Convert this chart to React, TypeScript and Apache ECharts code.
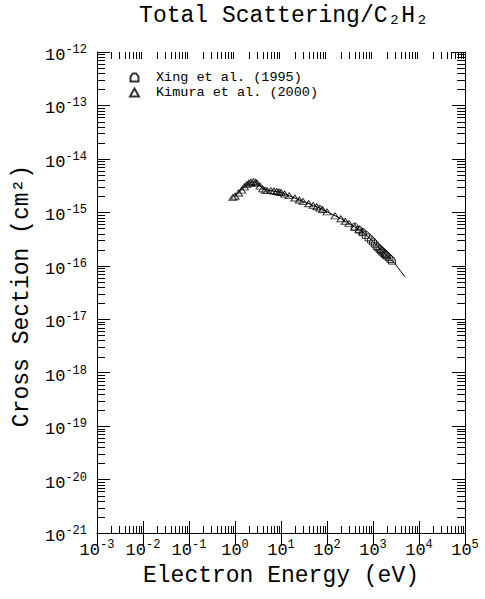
import React, { useEffect, useRef } from "react";
import * as echarts from "echarts";

const FONT = '"Liberation Mono", "DejaVu Sans Mono", monospace';

const X_MIN = 1e-3;
const X_MAX = 1e5;
const Y_MIN = 1e-21;
const Y_MAX = 1e-12;

// Kimura et al. (2000) – triangles
const kimuraEnergy = [0.9, 1.0, 1.2, 1.4, 1.6, 1.8, 2.0, 2.2, 2.5, 2.8, 3.0, 3.5, 4.0, 4.5, 5.0, 6.0, 7.0, 8.0, 9.0, 10, 12, 15, 20, 25, 30, 40, 50, 60, 70, 80, 100, 150, 200, 250, 300, 400, 500, 600];
const kimuraSigma = [1.9e-15, 2.0e-15, 2.3e-15, 2.6e-15, 3.0e-15, 3.3e-15, 3.5e-15, 3.65e-15, 3.75e-15, 3.65e-15, 3.5e-15, 3.1e-15, 2.75e-15, 2.6e-15, 2.55e-15, 2.55e-15, 2.5e-15, 2.45e-15, 2.4e-15, 2.35e-15, 2.2e-15, 2.05e-15, 1.85e-15, 1.7e-15, 1.6e-15, 1.45e-15, 1.35e-15, 1.27e-15, 1.2e-15, 1.13e-15, 1.02e-15, 8.6e-16, 7.6e-16, 6.8e-16, 6.2e-16, 5.3e-16, 4.8e-16, 4.3e-16];

// Xing et al. (1995) – hexagons
const xingEnergy = [400, 500, 600, 700, 800, 900, 1000, 1100, 1200, 1300, 1400, 1500, 1600, 1700, 1800, 1900, 2000, 2200, 2400, 2600];
const xingSigma = [5.4e-16, 4.75e-16, 4.25e-16, 3.8e-16, 3.4e-16, 3.1e-16, 2.85e-16, 2.6e-16, 2.35e-16, 2.2e-16, 2.07e-16, 1.95e-16, 1.85e-16, 1.76e-16, 1.68e-16, 1.62e-16, 1.56e-16, 1.45e-16, 1.34e-16, 1.25e-16];

// Recommended curve (solid line)
const fitEnergy = [1, 1.5, 2, 2.5, 3, 4, 5, 7, 10, 15, 20, 30, 50, 70, 100, 200, 300, 500, 700, 1000, 1500, 2000, 3000, 4000, 5000];
const fitSigma = [2.0e-15, 2.8e-15, 3.5e-15, 3.75e-15, 3.5e-15, 2.8e-15, 2.6e-15, 2.5e-15, 2.35e-15, 2.05e-15, 1.85e-15, 1.6e-15, 1.35e-15, 1.2e-15, 1.03e-15, 7.6e-16, 6.2e-16, 4.75e-16, 3.8e-16, 2.85e-16, 1.95e-16, 1.56e-16, 1.1e-16, 7.9e-17, 6.2e-17];

// Tick positions
const xDecades = [-3, -2, -1, 0, 1, 2, 3, 4];
const yDecades = [-21, -20, -19, -18, -17, -16, -15, -14, -13];
const yLabelExponents = [-21, -20, -19, -18, -17, -16, -15, -14, -13, -12];
const minorMultipliers = [2, 3, 4, 5, 6, 7, 8, 9];

const HEX = "path://M0,10 L0,4 L3,0 L7,0 L10,4 L10,10 Z";

function tickLabel(v: number) {
  const e = Math.round(Math.log10(v));
  return "{b|10}{e|" + String(e) + "}";
}

const richLabel = {
  b: { fontFamily: FONT, fontSize: 17, lineHeight: 20, verticalAlign: "bottom", fill: "#000", color: "#000" },
  e: { fontFamily: FONT, fontSize: 12, lineHeight: 8, verticalAlign: "top", fill: "#000", color: "#000" },
};

export default function App() {
  const ref = useRef<HTMLDivElement>(null);

  useEffect(() => {
    if (!ref.current) return;
    const chart = echarts.init(ref.current, null, { renderer: "svg" });

    const xMinor: number[][] = [];
    xDecades.forEach((d) => minorMultipliers.forEach((m) => xMinor.push([m * Math.pow(10, d), 1e-15])));
    const yMinor: number[][] = [];
    yDecades.forEach((d) => minorMultipliers.forEach((m) => yMinor.push([1, m * Math.pow(10, d)])));
    const yLabels: number[][] = yLabelExponents.map((e) => [1, Math.pow(10, e)]);

    const lineStyle = { stroke: "#000", lineWidth: 1 };

    const axisCommon = {
      type: "log",
      logBase: 10,
      axisLine: { show: true, lineStyle: { color: "#000", width: 1 } },
      splitLine: { show: false },
      minorTick: { show: false },
    };

    chart.setOption({
      animation: false,
      backgroundColor: "#fff",
      title: {
        text: "Total Scattering/C₂H₂",
        left: 279,
        top: -1,
        textAlign: "center",
        textStyle: { fontFamily: FONT, fontSize: 23, fontWeight: "normal", color: "#000" },
      },
      legend: {
        orient: "vertical",
        left: 124,
        top: 65.5,
        itemWidth: 9,
        itemHeight: 8,
        itemGap: 1,
        data: ["Xing et al. (1995)", "Kimura et al. (2000)"],
        textStyle: { fontFamily: FONT, fontSize: 13.5, color: "#000", padding: [0, 0, 0, 12] },
      },
      grid: { left: 97, right: 20, top: 52, bottom: 66, containLabel: false, outerBoundsMode: "none" },
      graphic: [
        {
          type: "text",
          x: 22,
          y: 296,
          rotation: Math.PI / 2,
          style: {
            text: "Cross Section (cm²)",
            fontFamily: FONT,
            fontSize: 23,
            fill: "#000",
            align: "center",
            verticalAlign: "middle",
          },
        },
      ],
      xAxis: [
        {
          ...axisCommon,
          position: "bottom",
          gridIndex: 0,
          min: X_MIN,
          max: X_MAX,
          splitNumber: 8,
          axisTick: { show: true, inside: true, length: 12, lineStyle: { color: "#000" } },
          axisLabel: {
            margin: 6,
            formatter: tickLabel,
            rich: richLabel,
            showMinLabel: true,
            showMaxLabel: true,
            hideOverlap: false,
          },
          name: "Electron Energy (eV)",
          nameLocation: "middle",
          nameGap: 31,
          nameTextStyle: { fontFamily: FONT, fontSize: 23, color: "#000" },
        },
        {
          ...axisCommon,
          position: "top",
          gridIndex: 0,
          min: X_MIN,
          max: X_MAX,
          splitNumber: 8,
          axisTick: { show: true, inside: true, length: 12, lineStyle: { color: "#000" } },
          axisLabel: { show: false },
        },
      ],
      yAxis: [
        {
          ...axisCommon,
          position: "left",
          gridIndex: 0,
          min: Y_MIN,
          max: Y_MAX,
          splitNumber: 9,
          axisTick: { show: true, inside: true, length: 13, lineStyle: { color: "#000" } },
          axisLabel: { show: false },
        },
        {
          ...axisCommon,
          position: "right",
          gridIndex: 0,
          min: Y_MIN,
          max: Y_MAX,
          splitNumber: 9,
          axisTick: { show: true, inside: true, length: 13, lineStyle: { color: "#000" } },
          axisLabel: { show: false },
        },
      ],
      series: [
        {
          type: "custom",
          name: "xminor",
          silent: true,
          xAxisIndex: 0,
          yAxisIndex: 0,
          data: xMinor,
          renderItem: (params: any, api: any) => {
            const cs = params.coordSys;
            const p = api.coord([api.value(0), 1e-15]);
            const x = Math.round(p[0]) + 0.5;
            const bottom = cs.y + cs.height;
            const top = cs.y;
            return {
              type: "group",
              children: [
                { type: "line", shape: { x1: x, y1: bottom, x2: x, y2: bottom - 7 }, style: lineStyle },
                { type: "line", shape: { x1: x, y1: top, x2: x, y2: top + 7 }, style: lineStyle },
              ],
            };
          },
        },
        {
          type: "custom",
          name: "yminor",
          silent: true,
          xAxisIndex: 0,
          yAxisIndex: 0,
          data: yMinor,
          renderItem: (params: any, api: any) => {
            const cs = params.coordSys;
            const p = api.coord([1, api.value(1)]);
            const y = Math.round(p[1]) + 0.5;
            const left = cs.x;
            const right = cs.x + cs.width;
            return {
              type: "group",
              children: [
                { type: "line", shape: { x1: left, y1: y, x2: left + 8, y2: y }, style: lineStyle },
                { type: "line", shape: { x1: right, y1: y, x2: right - 8, y2: y }, style: lineStyle },
              ],
            };
          },
        },
        {
          type: "custom",
          name: "ylabels",
          silent: true,
          xAxisIndex: 0,
          yAxisIndex: 0,
          data: yLabels,
          renderItem: (params: any, api: any) => {
            const cs = params.coordSys;
            const v = api.value(1);
            const p = api.coord([1, v]);
            return {
              type: "text",
              x: cs.x - 10,
              y: p[1] + 2,
              style: {
                text: tickLabel(v),
                rich: richLabel,
                align: "right",
                verticalAlign: "middle",
                fill: "#000",
              },
            };
          },
        },
        {
          type: "line",
          name: "fit",
          data: fitEnergy.map((e, i) => [e, fitSigma[i]]),
          showSymbol: false,
          symbol: "none",
          lineStyle: { color: "#000", width: 1 },
          silent: true,
        },
        {
          type: "scatter",
          name: "Kimura et al. (2000)",
          data: kimuraEnergy.map((e, i) => [e, kimuraSigma[i]]),
          symbol: "triangle",
          symbolSize: [8, 6],
          itemStyle: { color: "rgba(255,255,255,0)", borderColor: "#000", borderWidth: 1 },
        },
        {
          type: "scatter",
          name: "Xing et al. (1995)",
          data: xingEnergy.map((e, i) => [e, xingSigma[i]]),
          symbol: HEX,
          symbolSize: 7,
          itemStyle: { color: "rgba(255,255,255,0)", borderColor: "#000", borderWidth: 1 },
        },
      ],
    });

    return () => chart.dispose();
  }, []);

  return (
    <div
      ref={ref}
      style={{ position: "fixed", left: 0, top: 0, width: 485, height: 599, background: "#fff" }}
    />
  );
}
